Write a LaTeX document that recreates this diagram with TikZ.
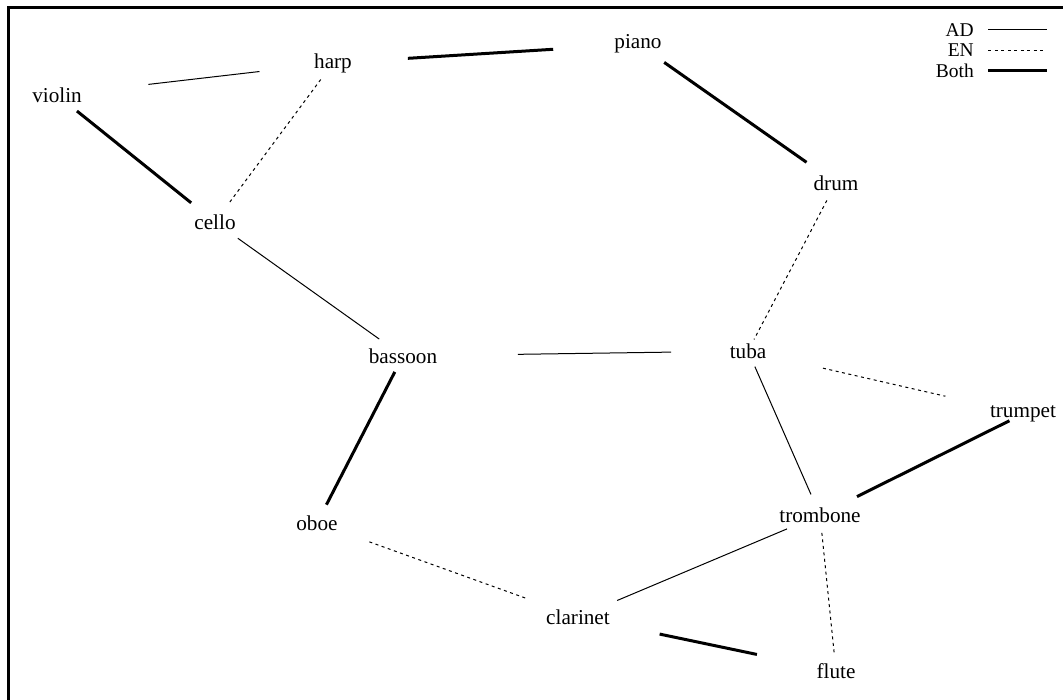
\documentclass[tikz,border=0pt]{standalone}
\usepackage{fontspec}
\setmainfont{Liberation Serif}
\begin{document}
\begin{tikzpicture}[x=1pt,y=-1pt,
  lbl/.style={inner sep=0pt,font=\fontsize{21.2}{24}\selectfont},
  leg/.style={inner sep=0pt,anchor=east,font=\fontsize{19.5}{22}\selectfont},
  ad/.style={line width=1pt},
  en/.style={line width=1pt,dash pattern=on 3pt off 3.5pt},
  both/.style={line width=3pt},
  frame/.style={line width=2.5pt}]
\useasboundingbox (0,0) rectangle (1063,700);
% frame
\coordinate (fTL) at (8.7,7.5);
\coordinate (fTR) at (1063,7.5);
\coordinate (fBL) at (8.7,700);
\draw[frame] (fBL) -- (fTL) -- (fTR);
% nodes
\node[lbl] (violin)   at (57,95)   {violin};
\node[lbl] (harp)     at (333,63)  {harp};
\node[lbl] (piano)    at (638,44)  {piano};
\node[lbl] (drum)     at (836,183) {drum};
\node[lbl] (cello)    at (215,222) {cello};
\node[lbl] (bassoon)  at (403,356) {bassoon};
\node[lbl] (tuba)     at (748,351) {tuba};
\node[lbl] (trumpet)  at (1023,414) {trumpet};
\node[lbl] (oboe)     at (317,523) {oboe};
\node[lbl] (trombone) at (820,515) {trombone};
\node[lbl] (clarinet) at (578,617) {clarinet};
\node[lbl] (flute)    at (836,671) {flute};
% edges
\draw[ad, shorten <=92pt, shorten >=74pt] (violin.center) -- (harp.center);
\draw[both, shorten <=75pt, shorten >=85pt] (harp.center) -- (piano.center);
\draw[both, shorten <=32pt, shorten >=36pt] (piano.center) -- (drum.center);
\draw[both, shorten <=25.6pt, shorten >=30.6pt] (violin.center) -- (cello.center);
\draw[en, shorten <=20.6pt, shorten >=22.5pt] (harp.center) -- (cello.center);
\draw[ad, shorten <=28pt, shorten >=29.2pt] (cello.center) -- (bassoon.center);
\draw[en, shorten <=19.7pt, shorten >=13pt] (drum.center) -- (tuba.center);
\draw[ad, shorten <=115pt, shorten >=77pt] (bassoon.center) -- (tuba.center);
\draw[both, shorten <=17.9pt, shorten >=20.6pt] (bassoon.center) -- (oboe.center);
\draw[en, shorten <=76.9pt, shorten >=79.6pt] (tuba.center) -- (trumpet.center);
\draw[ad, shorten <=17.1pt, shorten >=22.5pt] (tuba.center) -- (trombone.center);
\draw[both, shorten <=15.2pt, shorten >=41.3pt] (trumpet.center) -- (trombone.center);
\draw[en, shorten <=55.7pt, shorten >=54.4pt] (oboe.center) -- (clarinet.center);
\draw[ad, shorten <=35.8pt, shorten >=42.5pt] (trombone.center) -- (clarinet.center);
\draw[en, shorten <=18pt, shorten >=16pt] (trombone.center) -- (flute.center);
\draw[both, shorten <=83.4pt, shorten >=80.8pt] (clarinet.center) -- (flute.center);
% legend
\node[leg] (lAD)   at (974,30) {AD};
\node[leg] (lEN)   at (974,50) {EN};
\node[leg] (lBoth) at (974,71) {Both};
\coordinate (lADa) at (988,30);   \coordinate (lADb) at (1047,30);
\coordinate (lENa) at (988,51);   \coordinate (lENb) at (1045,51);
\coordinate (lBoa) at (988,71);   \coordinate (lBob) at (1047,71);
\draw[ad] (lADa) -- (lADb);
\draw[en] (lENa) -- (lENb);
\draw[both] (lBoa) -- (lBob);
\end{tikzpicture}
\end{document}
